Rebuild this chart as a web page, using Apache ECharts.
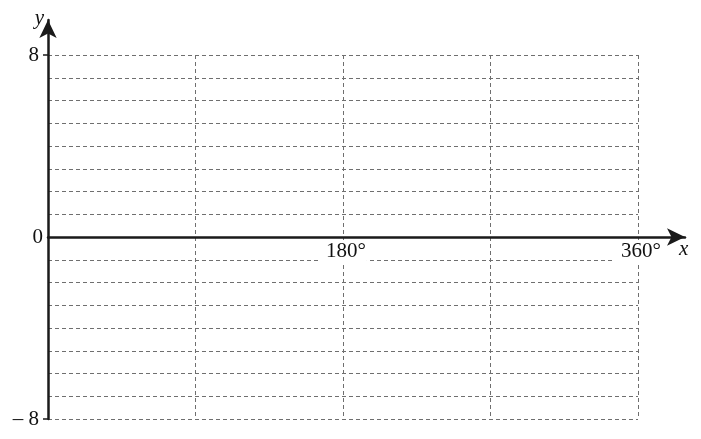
<!DOCTYPE html>
<html>
<head>
<meta charset="utf-8">
<script src="https://cdn.jsdelivr.net/npm/echarts@6/dist/echarts.min.js"></script>
<style>
html,body{margin:0;padding:0;background:#fff;}
#c{width:701px;height:439px;}
</style>
</head>
<body>
<div id="c"></div>
<script>
// Axis ranges and tick labels
const xRange = [0, 360];
const xGridStep = 90;
const xLabelValues = [180, 360];
const yRange = [-8, 8];
const yLabelStep = 8;
const yMinorSplits = 8;
const yTickValues = [-8, 8];

const FONT = '"Liberation Serif", "DejaVu Serif", serif';
const W = 701, H = 439;
const grid = { left: 48, right: 63, top: 55, bottom: 20, outerBoundsMode: 'none', containLabel: false };
const axisGrid = { left: 48, right: 16, top: 20, bottom: 20, outerBoundsMode: 'none', containLabel: false };
// arrow-axis ranges chosen so that its scale coincides with the main grid's scale
const mainH = H - grid.top - grid.bottom;
const zeroFromBottom = mainH * (0 - yRange[0]) / (yRange[1] - yRange[0]);
const axisH = H - axisGrid.top - axisGrid.bottom;
const yArrowMax = yRange[0] + (-yRange[0]) * axisH / zeroFromBottom;
const mainW = W - grid.left - grid.right;
const axisW = W - axisGrid.left - axisGrid.right;
const xArrowMax = xRange[0] + (xRange[1] - xRange[0]) * axisW / mainW;

const chart = echarts.init(document.getElementById('c'), null, { renderer: 'canvas' });
const dash = { color: '#6f6f6f', width: 1, type: [4, 3] };
const txt = { fontFamily: FONT, fontSize: 21, color: '#111' };
chart.setOption({
  animation: false,
  backgroundColor: '#fff',
  grid: [grid, axisGrid],
  xAxis: [
    {
      type: 'value', gridIndex: 0, min: xRange[0], max: xRange[1], interval: xGridStep,
      axisLine: { show: false },
      axisTick: { show: false },
      splitLine: { show: true, lineStyle: dash },
      axisLabel: { show: false }
    },
    {
      type: 'value', gridIndex: 1, min: xRange[0], max: xArrowMax,
      axisLine: { show: true, onZero: true, symbol: ['none', 'arrow'], symbolSize: [13, 18],
        lineStyle: { color: '#1a1a1a', width: 2.5 } },
      axisTick: { show: false }, splitLine: { show: false },
      axisLabel: Object.assign({
        customValues: xLabelValues,
        formatter: v => v + '°',
        backgroundColor: '#fff', padding: [1, 1, 2, 7], margin: 3 - zeroFromBottom
      }, txt),
      name: 'x', nameLocation: 'end', nameGap: -6,
      nameTextStyle: Object.assign({}, txt, { fontStyle: 'italic',
        align: 'left', verticalAlign: 'top', padding: [2, 0, 0, 0] })
    }
  ],
  yAxis: [
    {
      type: 'value', gridIndex: 0, min: yRange[0], max: yRange[1], interval: yLabelStep,
      axisLine: { show: false },
      axisTick: { show: true, customValues: yTickValues, length: 5, lineStyle: { color: '#1a1a1a', width: 1.5 } },
      splitLine: { show: true, lineStyle: dash },
      minorTick: { show: false, splitNumber: yMinorSplits },
      minorSplitLine: { show: true, lineStyle: dash },
      axisLabel: Object.assign({
        formatter: v => v === 0 ? '{z|0}' : (v < 0 ? '{t|– ' + (-v) + '}' : '{t|' + v + '}'),
        margin: 5,
        rich: {
          t: Object.assign({}, txt, { padding: [0, 4, 0, 0] }),
          z: Object.assign({}, txt)
        }
      }, txt)
    },
    {
      type: 'value', gridIndex: 1, min: yRange[0], max: yArrowMax,
      axisLine: { show: true, onZero: false, symbol: ['none', 'arrow'], symbolSize: [13, 18],
        lineStyle: { color: '#1a1a1a', width: 2.5 } },
      axisTick: { show: false }, axisLabel: { show: false }, splitLine: { show: false },
      name: 'y', nameLocation: 'end', nameGap: 2,
      nameTextStyle: Object.assign({}, txt, { fontStyle: 'italic',
        align: 'right', verticalAlign: 'middle', padding: [0, 4, 0, 0] })
    }
  ],
  series: []
});
</script>
</body>
</html>
